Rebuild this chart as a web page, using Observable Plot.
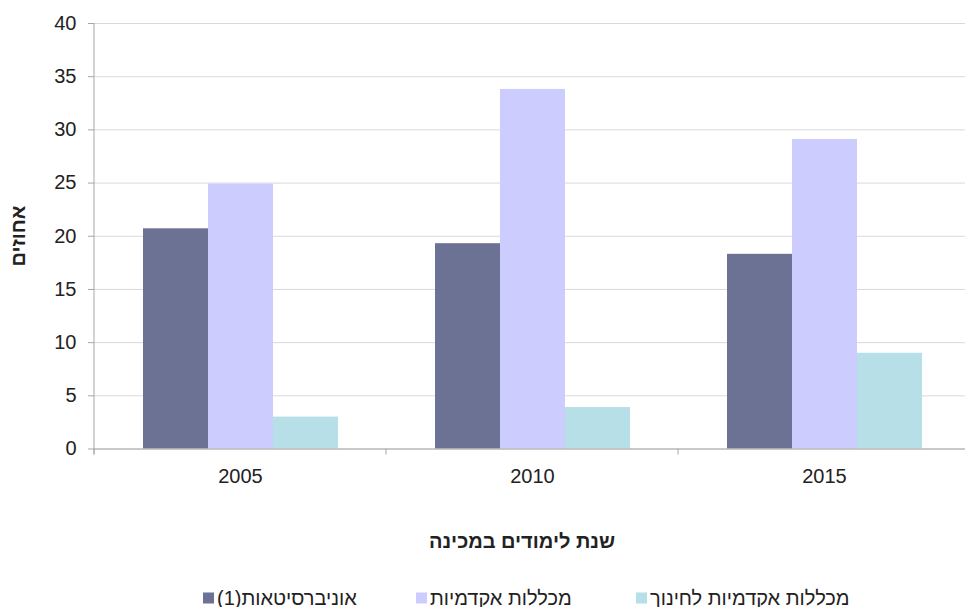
<!DOCTYPE html>
<html><head><meta charset="utf-8">
<script src="https://cdn.jsdelivr.net/npm/d3@7"></script>
<script src="https://cdn.jsdelivr.net/npm/@observablehq/plot@0.6"></script>
<style>
body{margin:0;background:#fff;overflow:hidden;font-family:"Liberation Sans",Arial,sans-serif;}
#wrap{position:relative;width:965px;height:607px;overflow:hidden;background:#fff;}
#chart{position:absolute;left:0;top:0;}
#chart svg g[aria-label^="y-axis"] line, #chart svg g[aria-label^="y-axis"] path{stroke:#a6a6a6;}
#ytitle{position:absolute;left:18px;top:236px;transform:translate(-50%,-50%) rotate(-90deg);font-weight:bold;font-size:20px;color:#222;white-space:nowrap;direction:rtl;}
#xtitle{position:absolute;left:522px;top:541px;transform:translate(-50%,-50%);font-weight:bold;font-size:20px;color:#222;white-space:nowrap;direction:rtl;}
#legend{position:absolute;left:0;width:965px;top:598px;height:0;font-size:20px;color:#222;}
#legend .item{position:absolute;top:0;transform:translateY(-50%);display:flex;align-items:center;gap:3px;}
#legend .sw{width:11px;height:11px;display:inline-block;}
#legend .tx{direction:rtl;white-space:nowrap;}
</style></head><body>
<div id="wrap"><div id="chart"></div>
<div id="ytitle">אחוזים</div>
<div id="xtitle">שנת לימודים במכינה</div>
<div id="legend"></div></div>
<script>
const years = ["2005", "2010", "2015"];
const series = ["אוניברסיטאות(1)", "מכללות אקדמיות", "מכללות אקדמיות לחינוך"];
const universities = [20.7, 19.3, 18.3];
const academicColleges = [24.9, 33.8, 29.1];
const educationColleges = [3.0, 3.9, 9.0];
const colors = ["#6b7294", "#ccccff", "#b7dfe8"];
const yTicks = [0, 5, 10, 15, 20, 25, 30, 35, 40];
const legendLefts = [203, 416, 636];

const seriesValues = [universities, academicColleges, educationColleges];
const data = years.flatMap((yr, i) => series.map((s, j) => ({year: yr, series: s, value: seriesValues[j][i]})));

const chart = Plot.plot({
  width: 965, height: 500,
  marginLeft: 94, marginRight: -5, marginTop: 23, marginBottom: 51.5,
  style: {fontFamily: '"Liberation Sans", Arial, sans-serif', fontSize: "20px", color: "#222", background: "transparent", overflow: "visible"},
  fx: {domain: years, padding: 0, label: null, axis: "bottom", tickSize: 0, tickPadding: 20},
  x: {domain: series, axis: null, paddingInner: 0, paddingOuter: 0.746},
  y: {domain: [0, 40], ticks: yTicks, label: null, tickSize: 6, tickPadding: 12},
  color: {domain: series, range: colors},
  marks: [
    Plot.ruleY(yTicks, {stroke: "#d9d9d9", strokeWidth: 1}),
    Plot.barY(data, {fx: "year", x: "series", y: "value", fill: "series"}),
    Plot.ruleY([0], {stroke: "#a6a6a6", strokeWidth: 1})
  ]
});
document.getElementById("chart").appendChild(chart);

// axis line and group-boundary ticks, positioned through the scales
const fxs = chart.scale("fx"), ys = chart.scale("y");
const svg = d3.select(chart);
const y0 = ys.apply(0), yTop = ys.apply(40);
const left = fxs.apply(years[0]);
svg.append("line").attr("x1", left).attr("x2", left).attr("y1", yTop).attr("y2", y0 + 6).attr("stroke", "#a6a6a6");
const bounds = years.map(y => fxs.apply(y)).concat([fxs.apply(years[years.length - 1]) + fxs.bandwidth]);
bounds.forEach(b => svg.append("line").attr("x1", b).attr("x2", b).attr("y1", y0).attr("y2", y0 + 6).attr("stroke", "#a6a6a6"));

const legend = d3.select("#legend");
series.forEach((s, i) => {
  const it = legend.append("div").attr("class", "item").style("left", legendLefts[i] + "px");
  it.append("span").attr("class", "sw").style("background", colors[i]);
  it.append("span").attr("class", "tx").text(s);
});
</script>
</body></html>
